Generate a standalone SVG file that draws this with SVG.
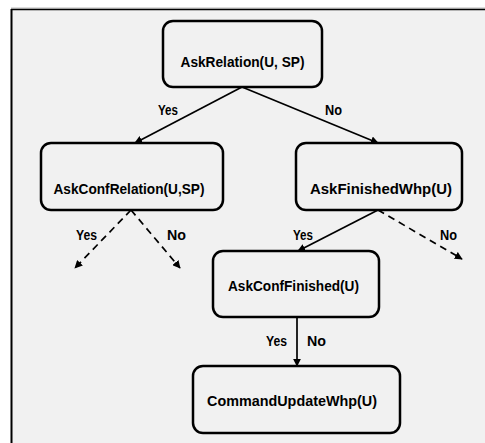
<svg xmlns="http://www.w3.org/2000/svg" width="485" height="443" viewBox="0 0 485 443">
<defs>
<style>
.node rect{fill:none;stroke:#000;stroke-width:2.5}
text{font-family:"Liberation Sans",Arial,sans-serif;font-weight:bold;font-size:15px;fill:#000}
.n text{text-anchor:middle}
.c line{stroke:#000;stroke-width:1.7}
.d{stroke-dasharray:7,5}
</style>
<marker id="ah" viewBox="0 0 10 10" refX="9" refY="5" markerWidth="8" markerHeight="8" markerUnits="userSpaceOnUse" orient="auto">
<path d="M0,0 L10,5 L0,10 z" fill="#000"/>
</marker>
</defs>
<rect x="0" y="0" width="485" height="443" fill="#fff"/>
<rect x="11" y="8" width="474" height="435" fill="#f1f1f1"/>
<line x1="11" y1="8" x2="485" y2="8" stroke="#bbb" stroke-width="1"/>
<line x1="11" y1="9.5" x2="485" y2="9.5" stroke="#000" stroke-width="1.6"/>
<line x1="11.5" y1="9" x2="11.5" y2="443" stroke="#000" stroke-width="2"/>
<g id="connectors" class="c">
<line x1="242" y1="87" x2="135" y2="143" marker-end="url(#ah)"/>
<line x1="242" y1="87" x2="378" y2="143" marker-end="url(#ah)"/>
<line class="d" x1="131" y1="210" x2="75" y2="268" marker-end="url(#ah)"/>
<line class="d" x1="131" y1="210" x2="180" y2="268" marker-end="url(#ah)"/>
<line x1="378" y1="210" x2="298" y2="251" marker-end="url(#ah)"/>
<line class="d" x1="378" y1="210" x2="462" y2="259" marker-end="url(#ah)"/>
<line x1="297" y1="317" x2="297" y2="366" marker-end="url(#ah)"/>
<text x="158" y="115" textLength="20" lengthAdjust="spacingAndGlyphs">Yes</text>
<text x="325" y="115" textLength="17" lengthAdjust="spacingAndGlyphs">No</text>
<text x="76" y="240" textLength="21" lengthAdjust="spacingAndGlyphs">Yes</text>
<text x="167" y="240" textLength="19" lengthAdjust="spacingAndGlyphs">No</text>
<text x="293" y="240" textLength="20" lengthAdjust="spacingAndGlyphs">Yes</text>
<text x="440" y="240" textLength="17" lengthAdjust="spacingAndGlyphs">No</text>
<text x="266" y="346" textLength="21" lengthAdjust="spacingAndGlyphs">Yes</text>
<text x="307" y="346" textLength="19" lengthAdjust="spacingAndGlyphs">No</text>
</g>
<g id="askRelation" class="node n">
<rect x="163" y="21" width="159" height="66" rx="10"/>
<text x="242.5" y="67" textLength="124" lengthAdjust="spacingAndGlyphs">AskRelation(U, SP)</text>
</g>
<g id="askConfRelation" class="node n">
<rect x="41" y="143" width="182" height="67" rx="10"/>
<text x="129" y="194" textLength="151" lengthAdjust="spacingAndGlyphs">AskConfRelation(U,SP)</text>
</g>
<g id="askFinishedWhp" class="node n">
<rect x="296" y="143" width="166" height="67" rx="10"/>
<text x="381" y="194" textLength="142" lengthAdjust="spacingAndGlyphs">AskFinishedWhp(U)</text>
</g>
<g id="askConfFinished" class="node n">
<rect x="213" y="251" width="166" height="66" rx="10"/>
<text x="293.5" y="291" textLength="131" lengthAdjust="spacingAndGlyphs">AskConfFinished(U)</text>
</g>
<g id="commandUpdateWhp" class="node n">
<rect x="193" y="366" width="207" height="67" rx="10"/>
<text x="292" y="406" textLength="170" lengthAdjust="spacingAndGlyphs">CommandUpdateWhp(U)</text>
</g>
</svg>
